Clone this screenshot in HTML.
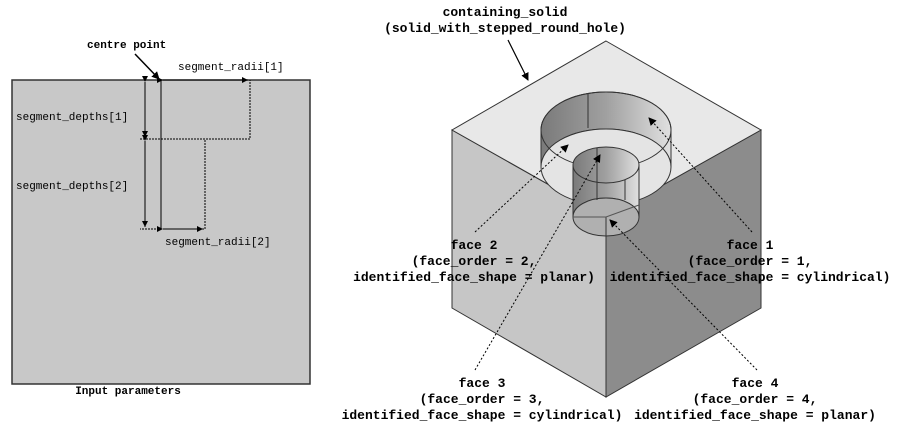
<!DOCTYPE html>
<html><head><meta charset="utf-8"><style>
html,body{margin:0;padding:0;background:#fff;}
svg{display:block;font-family:"Liberation Mono",monospace;}
.b{font-weight:bold;font-size:13px;}
.n{font-size:11px;}
</style></head><body>
<svg width="900" height="431" viewBox="0 0 900 431">
<defs>
<marker id="ar" markerWidth="8" markerHeight="8" refX="7" refY="4" orient="auto" markerUnits="userSpaceOnUse"><path d="M0,0 L8,4 L0,8 z" fill="#000"/></marker>
<marker id="as" markerWidth="6" markerHeight="6" refX="6" refY="3" orient="auto" markerUnits="userSpaceOnUse"><path d="M0,0 L6,3 L0,6 z" fill="#000"/></marker>
<linearGradient id="wall" x1="0" x2="1"><stop offset="0" stop-color="#7a7a7a"/><stop offset="0.5" stop-color="#a0a0a0"/><stop offset="1" stop-color="#e0e0e0"/></linearGradient>
</defs>
<!-- left panel -->
<g>
<rect x="12" y="80" width="298" height="304" fill="#c8c8c8" stroke="#333" stroke-width="1.5"/>
<line x1="161" y1="80" x2="161" y2="229" stroke="#000"/>
<path d="M161,139 H250 V80 M161,139 H205 V229 H140" fill="none" stroke="#000" stroke-dasharray="2,1"/>
<line x1="140" y1="139" x2="161" y2="139" stroke="#000" stroke-dasharray="2,1"/>
<line x1="145" y1="82" x2="145" y2="137" stroke="#000" marker-start="url(#as)" marker-end="url(#as)"/>
<line x1="145" y1="141" x2="145" y2="227" stroke="#000" marker-start="url(#as)" marker-end="url(#as)"/>
<line x1="163" y1="80" x2="248" y2="80" stroke="#000" marker-start="url(#as)" marker-end="url(#as)"/>
<line x1="163" y1="229" x2="203" y2="229" stroke="#000" marker-start="url(#as)" marker-end="url(#as)"/>
<line x1="135" y1="54" x2="159" y2="79" stroke="#000" stroke-width="1.5" marker-end="url(#ar)"/>
<text x="87" y="48" class="n" font-weight="bold">centre point</text>
<text x="178" y="70" class="n">segment_radii[1]</text>
<text x="16" y="120" class="n">segment_depths[1]</text>
<text x="16" y="189" class="n">segment_depths[2]</text>
<text x="165" y="245" class="n">segment_radii[2]</text>
<text x="128" y="394" class="n" font-weight="bold" text-anchor="middle">Input parameters</text>
</g>
<!-- cube -->
<g stroke="#333" stroke-width="1">
<polygon points="452,130 606,217 606,397 452,308" fill="#c6c6c6"/>
<polygon points="606,217 761,130 761,308 606,397" fill="#8c8c8c"/>
<polygon points="606,41 761,130 606,217 452,130" fill="#e8e8e8"/>
<!-- big counterbore -->
<path d="M541,130 A65,38 0 0 1 671,130 L671,167 A65,38 0 0 0 541,167 Z" fill="url(#wall)"/>
<ellipse cx="606" cy="167" rx="65" ry="38" fill="#e4e4e4"/>
<path d="M541,130 A65,38 0 0 0 671,130" fill="none"/>
<line x1="541" y1="130" x2="541" y2="167"/><line x1="671" y1="130" x2="671" y2="167"/>
<line x1="588" y1="93" x2="588" y2="128"/>
<path d="M541,130 A65,38 0 0 1 671,130" fill="none"/>
<!-- small hole -->
<path d="M573,165 A33,18 0 0 1 639,165 L639,217 A33,19 0 0 0 573,217 Z" fill="url(#wall)"/>
<ellipse cx="606" cy="217" rx="33" ry="19" fill="#b0b0b0"/>
<path d="M573,165 A33,18 0 0 0 639,165" fill="none"/>
<line x1="573" y1="165" x2="573" y2="217"/><line x1="639" y1="165" x2="639" y2="217"/>
<line x1="597" y1="148" x2="597" y2="200"/><line x1="625" y1="180" x2="625" y2="200"/>
<line x1="606" y1="217" x2="606" y2="236"/>
<path d="M573,217 L606,217 L639,205" fill="none" stroke="#555"/>
</g>
<!-- leaders -->
<g stroke="#000" fill="none">
<line x1="508" y1="40" x2="528" y2="80" stroke-width="1.2" marker-end="url(#ar)"/>
<line x1="752" y1="232" x2="649" y2="118" stroke-dasharray="2,2" marker-end="url(#ar)"/>
<line x1="475" y1="232" x2="568" y2="145" stroke-dasharray="2,2" marker-end="url(#ar)"/>
<line x1="475" y1="370" x2="600" y2="155" stroke-dasharray="2,2" marker-end="url(#ar)"/>
<line x1="757" y1="370" x2="610" y2="220" stroke-dasharray="2,2" marker-end="url(#ar)"/>
</g>
<g class="b" text-anchor="middle" fill="#000">
<text x="505" y="16">containing_solid</text>
<text x="505" y="32">(solid_with_stepped_round_hole)</text>
<g><text x="474" y="249">face 2</text><text x="474" y="265">(face_order = 2,</text><text x="474" y="281">identified_face_shape = planar)</text></g>
<g><text x="750" y="249">face 1</text><text x="750" y="265">(face_order = 1,</text><text x="750" y="281">identified_face_shape = cylindrical)</text></g>
<g><text x="482" y="387">face 3</text><text x="482" y="403">(face_order = 3,</text><text x="482" y="419">identified_face_shape = cylindrical)</text></g>
<g><text x="755" y="387">face 4</text><text x="755" y="403">(face_order = 4,</text><text x="755" y="419">identified_face_shape = planar)</text></g>
</g>
</svg>
</body></html>
